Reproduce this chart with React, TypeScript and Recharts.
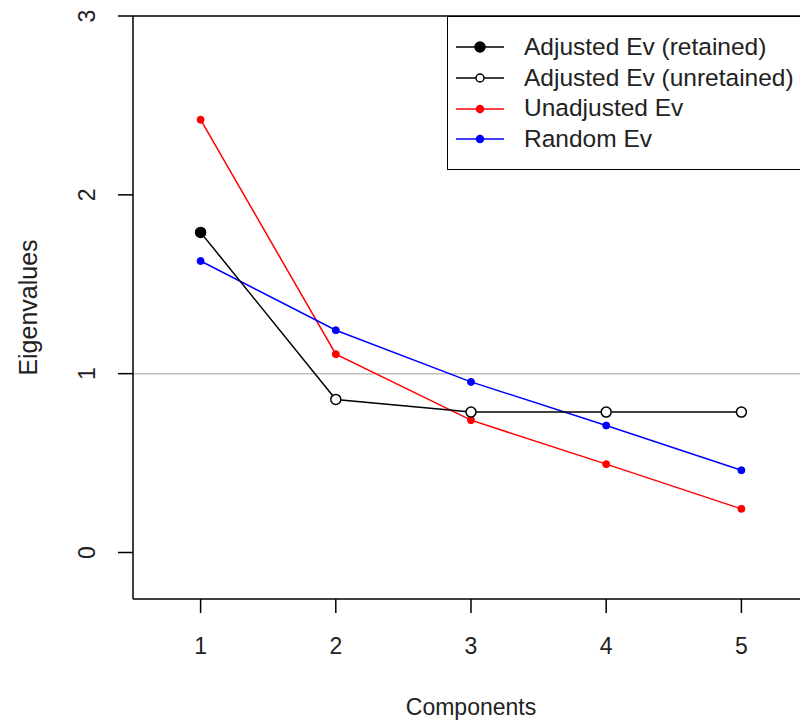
import { LineChart, Line, XAxis, YAxis, ReferenceLine, Label } from 'recharts'

const components = [1, 2, 3, 4, 5]
const adjustedEv = [1.79, 0.856, 0.785, 0.785, 0.785]
const unadjustedEv = [2.42, 1.109, 0.74, 0.494, 0.244]
const randomEv = [1.63, 1.243, 0.954, 0.71, 0.46]
const retainedCount = 1
const yTicks = [0, 1, 2, 3]

const legendItems = [
  { label: 'Adjusted Ev (retained)', color: '#000', fill: '#000', r: 5 },
  { label: 'Adjusted Ev (unretained)', color: '#000', fill: '#fff', r: 4 },
  { label: 'Unadjusted Ev', color: '#f00', fill: '#f00', r: 3.5 },
  { label: 'Random Ev', color: '#00f', fill: '#00f', r: 3.5 },
]

const data = components.map((c, i) => ({
  comp: c,
  adjusted: adjustedEv[i],
  unadjusted: unadjustedEv[i],
  random: randomEv[i],
}))

const FONT = '"Liberation Sans", Arial, sans-serif'
const FS = 23

function AdjustedDot(props: any) {
  const { cx, cy, index } = props
  if (cx == null || cy == null) return null
  const retained = index < retainedCount
  return (
    <circle
      key={`adj-${index}`}
      cx={cx}
      cy={cy}
      r={5}
      fill={retained ? '#000' : '#fff'}
      stroke="#000"
      strokeWidth={1.5}
    />
  )
}

// R draws y tick labels parallel to the axis
function YTick(props: any) {
  const { x, y, payload } = props
  const tx = x - 21
  return (
    <text
      x={tx}
      y={y}
      transform={`rotate(-90 ${tx} ${y})`}
      textAnchor="middle"
      fontFamily={FONT}
      fontSize={FS}
      fill="#222"
    >
      {payload.value}
    </text>
  )
}

function XTick(props: any) {
  const { x, y, payload } = props
  return (
    <text x={x} y={y + 39} textAnchor="middle" fontFamily={FONT} fontSize={FS} fill="#222">
      {payload.value}
    </text>
  )
}

function LegendBox() {
  return (
    <div
      style={{
        position: 'absolute',
        left: 447,
        top: 16,
        width: 362,
        height: 154,
        border: '1.5px solid #000',
        background: '#fff',
        boxSizing: 'border-box',
        paddingTop: 15,
        fontFamily: FONT,
        fontSize: 24.5,
        color: '#222',
      }}
    >
      {legendItems.map((it) => (
        <div key={it.label} style={{ display: 'flex', alignItems: 'center', height: 30.7 }}>
          <svg width={70} height={20} style={{ marginLeft: 6, flex: 'none' }}>
            <line x1={2} y1={10} x2={50} y2={10} stroke={it.color} strokeWidth={1.5} />
            <circle cx={26} cy={10} r={it.r} fill={it.fill} stroke={it.color} strokeWidth={1.5} />
          </svg>
          <span style={{ whiteSpace: 'nowrap', lineHeight: 1 }}>{it.label}</span>
        </div>
      ))}
    </div>
  )
}

export default function App() {
  return (
    <div style={{ position: 'absolute', left: 0, top: 0, width: 800, height: 725, overflow: 'hidden', background: '#fff' }}>
      <LineChart
        width={830}
        height={725}
        data={data}
        margin={{ top: 16, right: 21, bottom: 46, left: 0 }}
      >
        <XAxis
          dataKey="comp"
          type="number"
          domain={[0.5, 5.5]}
          ticks={components}
          height={80}
          tickSize={14}
          stroke="#000"
          strokeWidth={1.5}
          tick={<XTick />}
          allowDataOverflow
        >
          <Label value="Components" position="insideBottom" offset={-36} fontFamily={FONT} fontSize={FS} fill="#222" />
        </XAxis>
        <YAxis
          type="number"
          domain={[-0.26, 3]}
          ticks={yTicks}
          width={133}
          tickSize={15}
          stroke="#000"
          strokeWidth={1.5}
          tick={<YTick />}
          allowDataOverflow
        >
          <Label
            value="Eigenvalues"
            angle={-90}
            position="insideLeft"
            offset={0}
            dx={28}
            fontFamily={FONT}
            fontSize={25}
            fill="#222"
            style={{ textAnchor: 'middle' }}
          />
        </YAxis>
        <ReferenceLine y={3} stroke="#000" strokeWidth={1.5} />
        <ReferenceLine y={1} stroke="#bebebe" strokeWidth={1.5} />
        <Line
          dataKey="unadjusted"
          stroke="#f00"
          strokeWidth={1.5}
          dot={{ r: 3.5, fill: '#f00', stroke: '#f00', strokeWidth: 1 }}
          isAnimationActive={false}
        />
        <Line
          dataKey="random"
          stroke="#00f"
          strokeWidth={1.5}
          dot={{ r: 3.5, fill: '#00f', stroke: '#00f', strokeWidth: 1 }}
          isAnimationActive={false}
        />
        <Line
          dataKey="adjusted"
          stroke="#000"
          strokeWidth={1.5}
          dot={<AdjustedDot />}
          isAnimationActive={false}
        />
      </LineChart>
      <LegendBox />
    </div>
  )
}
